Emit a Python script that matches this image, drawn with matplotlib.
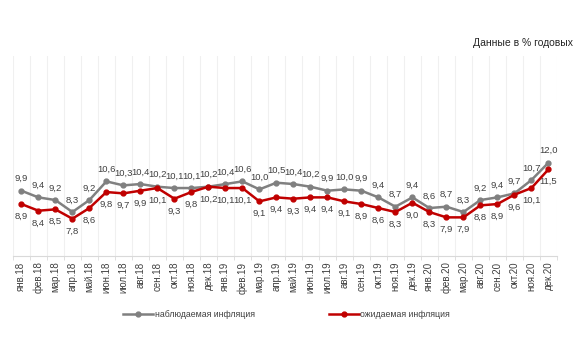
import numpy as np
import matplotlib
matplotlib.use("Agg")
import matplotlib.pyplot as plt

plt.rcParams["font.family"] = ["Liberation Sans", "DejaVu Sans"]

months = ["янв.18", "фев.18", "мар.18", "апр.18", "май.18", "июн.18", "июл.18", "авг.18",
          "сен.18", "окт.18", "ноя.18", "дек.18",
          "янв.19", "фев.19", "мар.19", "апр.19", "май.19", "июн.19", "июл.19", "авг.19",
          "сен.19", "окт.19", "ноя.19", "дек.19",
          "янв.20", "фев.20", "мар.20", "авг.20", "сен.20", "окт.20", "ноя.20", "дек.20"]
observed = [9.9, 9.4, 9.2, 8.3, 9.2, 10.6, 10.3, 10.4, 10.2, 10.1, 10.1, 10.2,
            10.4, 10.6, 10.0, 10.5, 10.4, 10.2, 9.9, 10.0, 9.9, 9.4, 8.7, 9.4,
            8.6, 8.7, 8.3, 9.2, 9.4, 9.7, 10.7, 12.0]
expected = [8.9, 8.4, 8.5, 7.8, 8.6, 9.8, 9.7, 9.9, 10.1, 9.3, 9.8, 10.2,
            10.1, 10.1, 9.1, 9.4, 9.3, 9.4, 9.4, 9.1, 8.9, 8.6, 8.3, 9.0,
            8.3, 7.9, 7.9, 8.8, 8.9, 9.6, 10.1, 11.5]

GRAY = "#808080"
RED = "#C00000"
TXT = "#404040"

fig = plt.figure(figsize=(5.85, 3.4), dpi=100)
ax = fig.add_axes([0.022, 0.247, 0.93, 0.588])

x = np.arange(len(months))
ax.plot(x, observed, color=GRAY, lw=1.8, marker="o", ms=3.5, label="наблюдаемая инфляция", zorder=3)
ax.plot(x, expected, color=RED, lw=1.8, marker="o", ms=3.5, label="ожидаемая инфляция", zorder=3)

for xi, v in zip(x, observed):
    ax.annotate(f"{v:.1f}".replace(".", ","), (xi, v), xytext=(0, 5.5), textcoords="offset points",
                ha="center", va="bottom", fontsize=6.8, color=TXT)
for xi, v in zip(x, expected):
    ax.annotate(f"{v:.1f}".replace(".", ","), (xi, v), xytext=(0, -5.5), textcoords="offset points",
                ha="center", va="top", fontsize=6.8, color=TXT)

ax.set_xlim(-0.5, len(months) - 0.5)
ax.set_ylim(5, 20)
ax.set_xticks(x)
ax.set_xticklabels(months, rotation=90, fontsize=7, color=TXT)
ax.set_xticks(np.arange(-0.5, len(months)), minor=True)
ax.tick_params(axis="x", which="major", length=0, pad=4)
ax.tick_params(axis="x", which="minor", length=3, color="#D9D9D9")
ax.grid(axis="x", which="minor", color="#F0F0F0", lw=0.8)
ax.set_yticks([])
for s in ["top", "right", "left"]:
    ax.spines[s].set_visible(False)
ax.spines["bottom"].set_color("#D9D9D9")

fig.text(0.98, 0.875, "Данные в % годовых", ha="right", va="center", fontsize=7.5, color="#262626")

fig.legend(loc="center", bbox_to_anchor=(0.49, 0.075), ncol=2, frameon=False, fontsize=6.3,
           handlelength=3.4, handletextpad=0.2, columnspacing=8.5, labelcolor=TXT)

fig.savefig("out.png", dpi=100, facecolor="white")
